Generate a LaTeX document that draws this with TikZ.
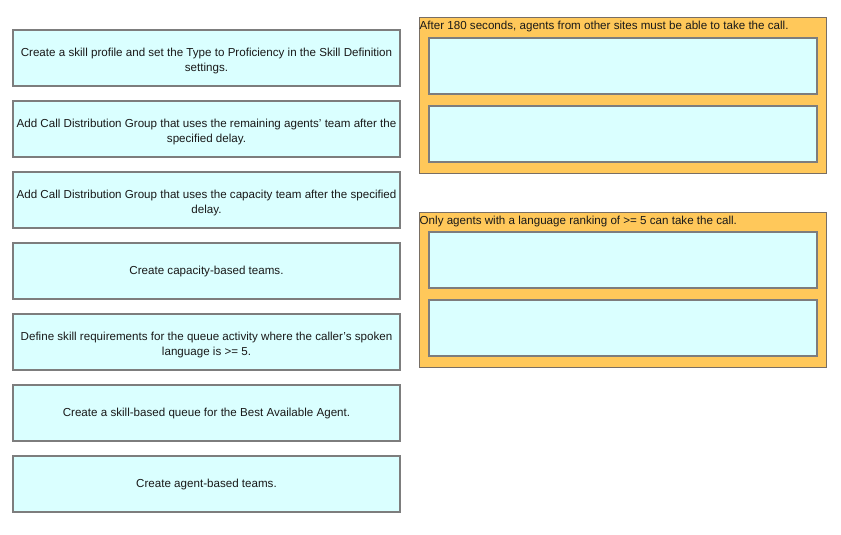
\documentclass[tikz,border=0pt]{standalone}
\usepackage{fontspec}
\setmainfont{Liberation Sans}
\definecolor{boxfill}{RGB}{218,255,255}
\definecolor{boxline}{RGB}{125,125,125}
\definecolor{panelfill}{RGB}{255,200,90}
\definecolor{panelline}{RGB}{120,110,100}
\definecolor{txt}{RGB}{25,25,25}
\tikzset{
  optbox/.style={draw=boxline, line width=2pt, fill=boxfill, minimum width=387pt, minimum height=56pt,
    align=center, font=\fontsize{11.6pt}{14.5pt}\selectfont, text=txt, inner sep=0pt},
  slotbox/.style={draw=boxline, line width=2pt, fill=boxfill, minimum width=388pt, minimum height=56pt, inner sep=0pt},
  panel/.style={draw=panelline, line width=0.6pt, fill=panelfill, minimum width=407pt, inner sep=0pt},
  paneltitle/.style={anchor=north west, inner sep=0pt, font=\fontsize{11.6pt}{13pt}\selectfont, text=txt}
}
\begin{document}
\begin{tikzpicture}[x=1pt,y=-1pt]
\useasboundingbox[fill=white] (0,0) rectangle (841,535);
% left option boxes (two-line texts sit slightly low in their boxes)
\node[optbox] (o1) at (206.5,58) {};
\node[align=center, font=\fontsize{11.6pt}{14.5pt}\selectfont, text=txt, inner sep=0pt] (l1) at (206.5,61) {Create a skill profile and set the Type to Proficiency in the Skill Definition\\settings.};
\node[optbox] (o2) at (206.5,129) {};
\node[align=center, font=\fontsize{11.6pt}{14.5pt}\selectfont, text=txt, inner sep=0pt] (l2) at (206.5,132) {Add Call Distribution Group that uses the remaining agents' team after the\\specified delay.};
\node[optbox] (o3) at (206.5,200) {};
\node[align=center, font=\fontsize{11.6pt}{14.5pt}\selectfont, text=txt, inner sep=0pt] (l3) at (206.5,203) {Add Call Distribution Group that uses the capacity team after the specified\\delay.};
\node[optbox] (o4) at (206.5,271) {Create capacity-based teams.};
\node[optbox] (o5) at (206.5,342) {};
\node[align=center, font=\fontsize{11.6pt}{14.5pt}\selectfont, text=txt, inner sep=0pt] (l5) at (206.5,345) {Define skill requirements for the queue activity where the caller's spoken\\language is >= 5.};
\node[optbox] (o6) at (206.5,413) {Create a skill-based queue for the Best Available Agent.};
\node[optbox] (o7) at (206.5,484) {Create agent-based teams.};
% right panels
\node[panel, minimum height=156pt] (p1) at (622.5,95) {};
\node[paneltitle] (t1) at (419.5,20.5) {After 180 seconds, agents from other sites must be able to take the call.};
\node[slotbox] (s1) at (623,66) {};
\node[slotbox] (s2) at (623,134) {};
\node[panel, minimum height=155pt] (p2) at (622.5,289.5) {};
\node[paneltitle] (t2) at (419.5,215.5) {Only agents with a language ranking of >= 5 can take the call.};
\node[slotbox] (s3) at (623,260) {};
\node[slotbox] (s4) at (623,327.5) {};
\end{tikzpicture}
\end{document}
